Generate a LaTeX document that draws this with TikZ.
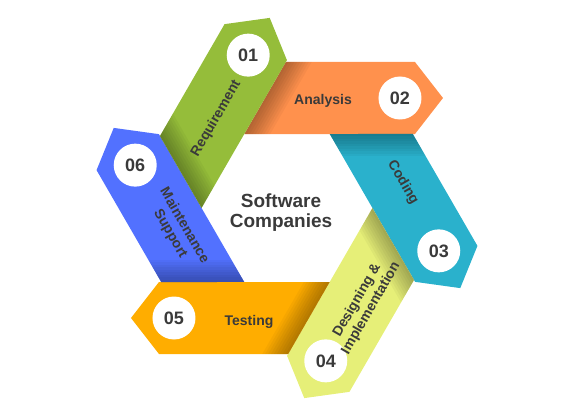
\documentclass[tikz,border=0pt]{standalone}
\usepackage{fontspec}
\setmainfont{Liberation Sans}
\definecolor{ink}{HTML}{3A3A3A}
\definecolor{green01}{HTML}{95BD3A}
\definecolor{orange02}{HTML}{FF914D}
\definecolor{cyan03}{HTML}{2AB1CC}
\definecolor{yellow04}{HTML}{E6EF78}
\definecolor{amber05}{HTML}{FFAD00}
\definecolor{blue06}{HTML}{5271FF}
\tikzset{x=1pt,y=1pt,
  numdisk/.style={circle,fill=white,minimum size=43pt,inner sep=0pt,
    text=ink,font=\fontsize{18}{18}\selectfont\bfseries},
  steplabel/.style={text=ink,align=center,inner sep=0pt,
    font=\fontsize{14}{16}\selectfont\bfseries},
  hubtitle/.style={text=ink,align=center,
    font=\fontsize{19}{20}\selectfont\bfseries},
  tailshadow/.style={black,opacity=.035,rotate around={-30:(-22,110)}}}

% one band of the hexagon, drawn as the top one and then turned
\newcommand{\bandpath}{(-42.7,74) -- (-1.2,146) -- (128,146) -- (156,110) -- (128,74) -- cycle}
\newcommand{\band}[6]{%
  \begin{scope}[rotate=#1]
    \fill[#2] \bandpath;
    \begin{scope}
      \clip \bandpath;
      \foreach \w in {2.5,5,...,22.5}
        \fill[tailshadow] (-30,40) rectangle (-22+\w,180);
    \end{scope}
    \node[numdisk] (d#3) at (113,110) {#3};
    \node[steplabel,rotate=#5] (t#3) at (#6) {#4};
  \end{scope}}

\begin{document}
\begin{tikzpicture}
  \useasboundingbox (-287,-210) rectangle (287,208);

  \band{0}{orange02}{02}{Analysis}{0}{36,107}
  \band{-60}{cyan03}{03}{Coding}{-60}{36,113}
  \band{-120}{yellow04}{04}{Designing \&\\Implementation}{60}{45,115}
  \band{180}{amber05}{05}{Testing}{0}{38,114}
  \band{120}{blue06}{06}{Maintenance\\Support}{-60}{36,106}
  \band{60}{green01}{01}{Requirement}{60}{42,106}

  \node[hubtitle] (hub) at (-6,-5) {Software\\Companies};
\end{tikzpicture}
\end{document}
